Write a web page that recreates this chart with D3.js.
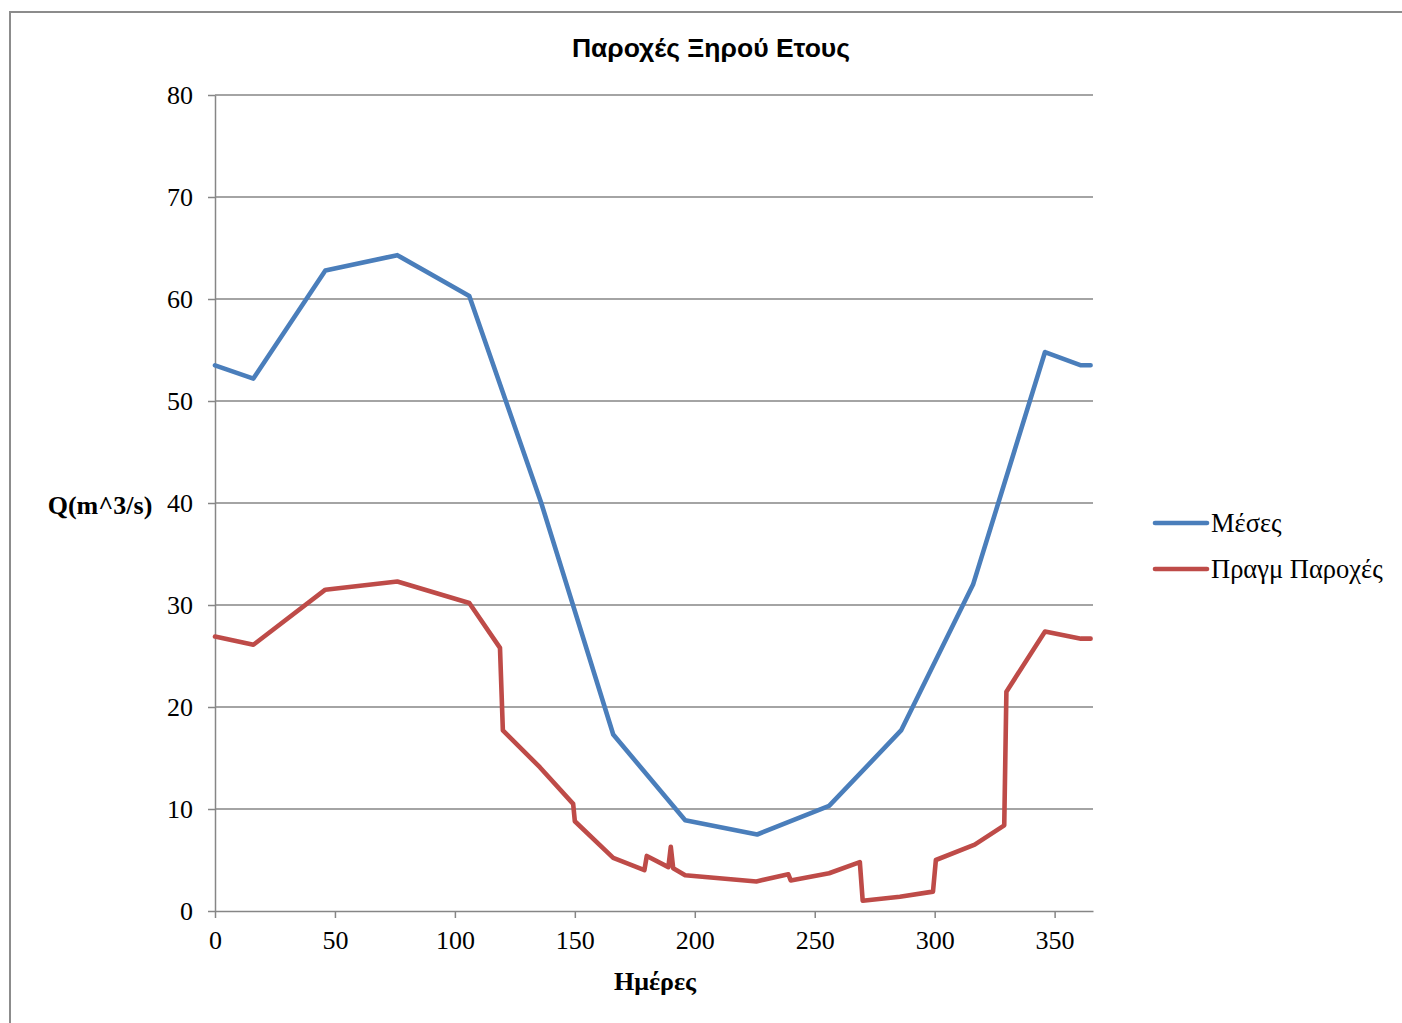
<!DOCTYPE html>
<html>
<head>
<meta charset="utf-8">
<script src="https://cdn.jsdelivr.net/npm/d3@7"></script>
<style>
  html, body { margin: 0; padding: 0; background: #fff; }
  svg { display: block; }
</style>
</head>
<body>
<svg id="chart" width="1402" height="1023"></svg>
<script>
// Mean daily discharge of a typical year (day, m^3/s)
const meanDays   = [0, 16, 46, 76, 106, 136, 166, 196, 226, 256, 286, 316, 346, 361, 365];
const meanValues = [53.5, 52.2, 62.8, 64.3, 60.3, 40.0, 17.3, 8.9, 7.5, 10.3, 17.7, 32.0, 54.8, 53.5, 53.5];

// Actual discharges of the dry year (day, m^3/s)
const realDays   = [0, 16, 46, 76, 106, 118.8, 120, 135.4, 149.3, 150, 166, 179, 180, 189, 190, 191, 196,
                    225.7, 239, 240, 256, 268.8, 270, 285.5, 299.3, 300.5, 316.7, 329, 329.9, 346, 361, 365];
const realValues = [26.9, 26.1, 31.5, 32.3, 30.2, 25.8, 17.7, 14.1, 10.5, 8.8, 5.2, 4.0, 5.4, 4.3, 6.3, 4.2, 3.5,
                    2.9, 3.6, 3.0, 3.7, 4.8, 1.0, 1.4, 1.9, 5.0, 6.5, 8.4, 21.5, 27.4, 26.7, 26.7];

const xTicks = [0, 50, 100, 150, 200, 250, 300, 350];
const yTicks = [0, 10, 20, 30, 40, 50, 60, 70, 80];

const seriesNames  = ["Μέσες", "Πραγμ Παροχές"];
const seriesColors = ["#4A7EBB", "#BE4B48"];

const svg = d3.select("#chart");
const serif = "'Liberation Serif', 'Times New Roman', serif";
const sans = "'Liberation Sans', Arial, sans-serif";
const gridColor = "#868686";
const fs = 26;
const lineW = 4.6;

// chart frame
svg.append("path")
  .attr("d", "M10,1023 V12 H1402")
  .attr("fill", "none").attr("stroke", "#8c8c8c").attr("stroke-width", 2);

const x = d3.scaleLinear().domain([0, 366]).range([215, 1093]);
const y = d3.scaleLinear().domain([0, 80]).range([911, 95]);

// horizontal gridlines
svg.append("g").selectAll("line").data(yTicks.filter(d => d > 0)).join("line")
  .attr("x1", x(0)).attr("x2", x(366))
  .attr("y1", d => y(d)).attr("y2", d => y(d))
  .attr("stroke", gridColor).attr("stroke-width", 1.5);

// y axis
const yAxis = svg.append("g").attr("transform", `translate(${x(0)},0)`)
  .call(d3.axisLeft(y).tickValues(yTicks).tickSize(7).tickSizeOuter(0).tickPadding(15).tickFormat(d3.format("d")));
yAxis.select(".domain").attr("stroke", gridColor).attr("stroke-width", 1.5);
yAxis.selectAll(".tick line").attr("stroke", gridColor).attr("stroke-width", 1.5);
yAxis.selectAll(".tick text").attr("font-family", serif).attr("font-size", fs).attr("fill", "#000");

// x axis
const xAxis = svg.append("g").attr("transform", `translate(0,${y(0)})`)
  .call(d3.axisBottom(x).tickValues(xTicks).tickSize(7).tickSizeOuter(0).tickPadding(13).tickFormat(d3.format("d")));
xAxis.select(".domain").attr("stroke", gridColor).attr("stroke-width", 1.5);
xAxis.selectAll(".tick line").attr("stroke", gridColor).attr("stroke-width", 1.5);
xAxis.selectAll(".tick text").attr("font-family", serif).attr("font-size", fs).attr("fill", "#000");

// series lines
const line = d3.line().x(d => x(d[0])).y(d => y(d[1]));
const series = [
  d3.zip(meanDays, meanValues),
  d3.zip(realDays, realValues)
];
series.forEach((pts, i) => {
  svg.append("path")
    .datum(pts)
    .attr("d", line)
    .attr("fill", "none")
    .attr("stroke", seriesColors[i])
    .attr("stroke-width", lineW)
    .attr("stroke-linejoin", "round")
    .attr("stroke-linecap", "round");
});

// titles
svg.append("text").attr("x", 711).attr("y", 57).attr("text-anchor", "middle")
  .attr("font-family", sans).attr("font-weight", "bold").attr("font-size", 26.5)
  .text("Παροχές Ξηρού Ετους");
svg.append("text").attr("x", 100).attr("y", 514).attr("text-anchor", "middle")
  .attr("font-family", serif).attr("font-weight", "bold").attr("font-size", fs)
  .text("Q(m^3/s)");
svg.append("text").attr("x", 655).attr("y", 990).attr("text-anchor", "middle")
  .attr("font-family", serif).attr("font-weight", "bold").attr("font-size", fs)
  .text("Ημέρες");

// legend
const legend = svg.append("g");
seriesNames.forEach((name, i) => {
  const ly = 523 + i * 46;
  legend.append("line").attr("x1", 1155).attr("x2", 1207).attr("y1", ly).attr("y2", ly)
    .attr("stroke", seriesColors[i]).attr("stroke-width", lineW).attr("stroke-linecap", "round");
  legend.append("text").attr("x", 1211).attr("y", ly + 9)
    .attr("font-family", serif).attr("font-size", 26.5).text(name);
});
</script>
</body>
</html>
